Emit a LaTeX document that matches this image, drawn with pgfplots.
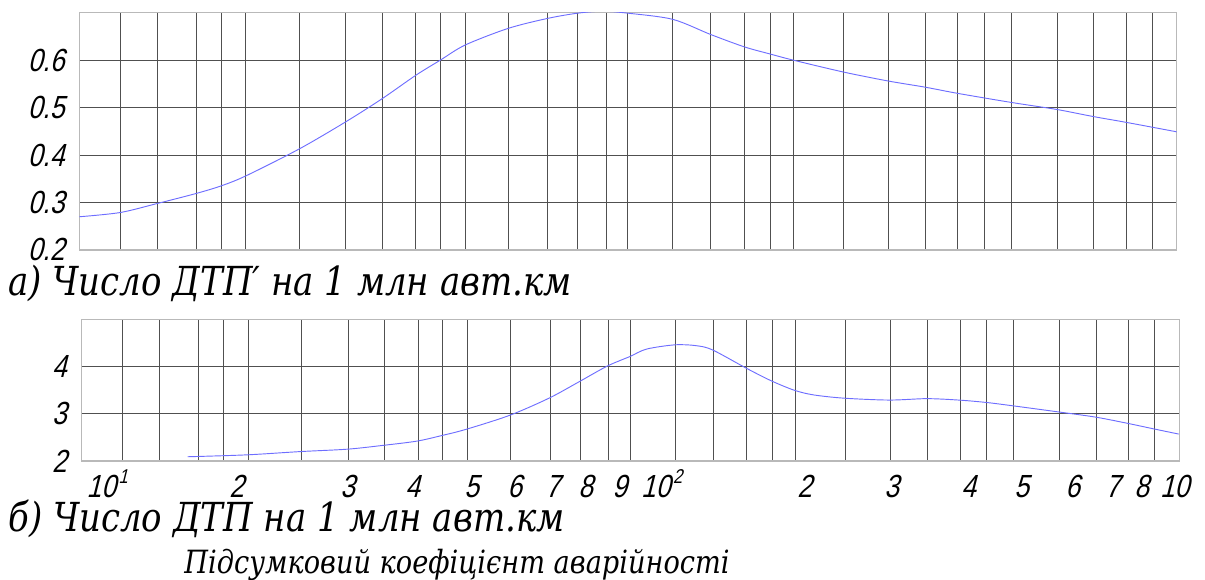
\documentclass[border=0pt]{standalone}
\usepackage{fontspec}
\usepackage{pgfplots}
\pgfplotsset{compat=1.18}
\newfontfamily\capfont{DejaVu Serif}[FakeStretch=0.85]
\newfontfamily\gost{Liberation Sans}[FakeSlant=0.25,FakeStretch=0.82]
\definecolor{lineblue}{RGB}{110,110,255}
\definecolor{gridc}{RGB}{80,80,80}
\newcommand{\sups}[1]{\hspace{2pt}\raisebox{10pt}{\fontsize{15}{15}\selectfont #1}}

\begin{document}
\begin{tikzpicture}[x=0.75pt,y=-0.75pt]
\path[use as bounding box] (0,0) rectangle (1205,580);
\coordinate (A) at (79.3,250);
\coordinate (B) at (81.7,461);
\pgfplotsset{
 common/.style={
  scale only axis, xmin=0, xmax=1097.4,
  width=823.05pt,
  axis line style={draw=gray!55, line width=0.8pt},
  xtick={41,78,116.7,141.7,166.4,220,266.4,303,336.4,361,386,429,468.4,498.4,526.7,548.4,593.4,631.4,665,690.7,714,764,809,846,878.4,905,931.7,977.7,1014.4,1046.7,1072.7},
  xticklabels={},
  major tick length=0pt,
  grid=major, major grid style={draw=gridc, line width=0.65pt},
  tick label style={font=\gost\fontsize{24}{24}\selectfont},
  yticklabel style={anchor=base east, inner sep=0pt, xshift=-11pt, yshift=-8.25pt},
 }
}
\begin{axis}[common, at={(A)}, anchor=south west, height=177.98pt,
  ymin=0.2, ymax=0.7, ytick={0.2,0.3,0.4,0.5,0.6}, yticklabels={0.2,0.3,0.4,0.5,0.6}]
\addplot[lineblue, line width=0.7pt, smooth, no markers] coordinates {
(0,0.270) (41,0.279) (78,0.298) (116.7,0.319) (141.7,0.335) (166.4,0.356) (220,0.413) (266.4,0.470) (303,0.519) (336.4,0.568) (361,0.600) (386,0.632) (429,0.667) (468.4,0.688) (498.4,0.699) (523,0.703) (548.4,0.699) (593.4,0.686) (631.4,0.654) (665,0.628) (690.7,0.613) (714,0.600) (764,0.575) (809,0.556) (846,0.543) (878.4,0.530) (931.7,0.511) (977.7,0.496) (1014.4,0.481) (1046.7,0.469) (1097.4,0.449)
};
\end{axis}
\begin{axis}[common, at={(B)}, anchor=south west, height=106.28pt,
  ymin=2, ymax=5, ytick={2,3,4}, yticklabels={2,3,4},
  extra x ticks={25.5,155,266,331,390,433,471,504,538,580,723,810,887,940,991,1031,1060,1093},
  extra x tick labels={{10\sups{1}},2,3,4,5,6,7,8,9,{10\sups{2}},2,3,4,5,6,7,8,10},
  extra tick style={grid=none, xticklabel style={anchor=base, inner sep=0pt, yshift=-27pt}}]
\addplot[lineblue, line width=0.7pt, smooth, no markers] coordinates {
(106,2.09) (165,2.13) (219,2.20) (265.6,2.25) (301,2.33) (335,2.42) (358.3,2.53) (384.3,2.67) (428.3,2.97) (467.3,3.33) (497.6,3.68) (525.6,4.01) (548,4.21) (565,4.37) (593.6,4.46) (615,4.44) (631,4.35) (665,3.96) (689.3,3.70) (712.3,3.50) (731.6,3.40) (762.3,3.33) (807.6,3.29) (845,3.32) (877,3.29) (904.3,3.24) (930.6,3.17) (976.3,3.04) (1013.6,2.93) (1045.3,2.80) (1072,2.68) (1097,2.57)
};
\end{axis}
\node[anchor=base west, inner sep=0pt, font=\capfont\itshape\fontsize{30}{30}\selectfont] at (8,296) {а) Число ДТП′ на 1 млн авт.км};
\node[anchor=base west, inner sep=0pt, font=\capfont\itshape\fontsize{30}{30}\selectfont] at (8,531) {б) Число ДТП на 1 млн авт.км};
\node[anchor=base, inner sep=0pt, font=\capfont\itshape\fontsize{24}{24}\selectfont] at (457,573) {Підсумковий коефіцієнт аварійності};
\end{tikzpicture}
\end{document}
